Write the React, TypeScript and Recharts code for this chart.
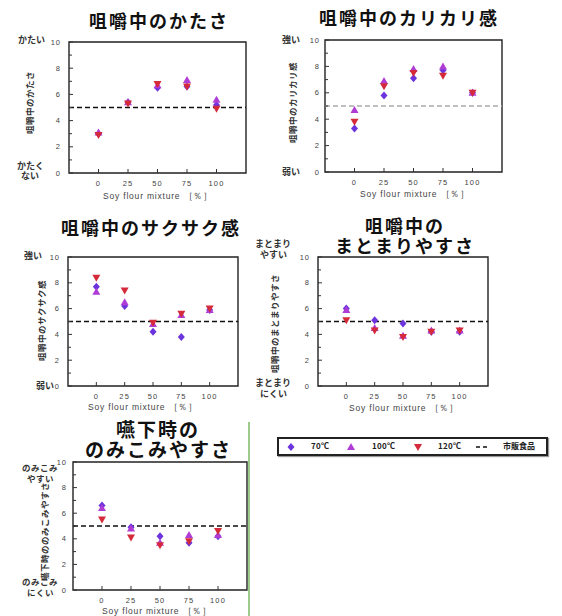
import React from 'react';
import { ScatterChart, Scatter, XAxis, YAxis, ReferenceLine, ReferenceArea } from 'recharts';

const mixture = [0, 25, 50, 75, 100];
const xTicks = [0, 25, 50, 75, 100];
const yTicks = [0, 1, 2, 3, 4, 5, 6, 7, 8, 9, 10];
const yLabelTicks = [0, 2, 4, 6, 8, 10];
const marketLevel = 5;

// 咀嚼中のかたさ
const hard70 = [3.0, 5.4, 6.5, 6.6, 5.2];
const hard100 = [3.1, 5.4, 6.7, 7.1, 5.6];
const hard120 = [2.9, 5.3, 6.8, 6.6, 4.9];

// 咀嚼中のカリカリ感
const kari70 = [3.3, 5.8, 7.1, 7.7, 6.0];
const kari100 = [4.7, 6.9, 7.8, 8.0, 6.0];
const kari120 = [3.8, 6.5, 7.5, 7.3, 6.0];

// 咀嚼中のサクサク感
const saku70 = [7.7, 6.2, 4.2, 3.8, 5.9];
const saku100 = [7.3, 6.5, 4.8, 5.5, 5.9];
const saku120 = [8.4, 7.4, 4.9, 5.6, 6.0];

// 咀嚼中のまとまりやすさ
const matome70 = [6.0, 5.1, 4.85, 4.2, 4.2];
const matome100 = [5.9, 4.5, 3.9, 4.3, 4.3];
const matome120 = [5.1, 4.3, 3.8, 4.2, 4.3];

// 嚥下時ののみこみやすさ
const nomi70 = [6.6, 4.9, 4.2, 3.7, 4.2];
const nomi100 = [6.4, 4.8, 3.7, 4.3, 4.3];
const nomi120 = [5.5, 4.1, 3.5, 3.8, 4.6];

const C70 = '#6c34dc';
const C100 = '#b03cd6';
const C120 = '#d42a3a';

// CJK face with tighter line metrics so stacked lines don't collide
const FONT_CSS = `
@font-face { font-family: 'JPTight'; font-weight: 700;
  src: local('Noto Sans CJK JP Bold'), local('NotoSansCJKjp-Bold'), local('Noto Sans CJK JP');
  ascent-override: 86%; descent-override: 14%; line-gap-override: 0%; }
@font-face { font-family: 'JPTight'; font-weight: 400;
  src: local('Noto Sans CJK JP Regular'), local('NotoSansCJKjp-Regular'), local('Noto Sans CJK JP');
  ascent-override: 86%; descent-override: 14%; line-gap-override: 0%; }
`;

const JP = '"JPTight", "Noto Sans CJK JP", "Noto Sans", sans-serif';
const NUM = '"Liberation Sans", "DejaVu Sans", sans-serif';

const PAD_L = 70;
const PAD_T = 12;
const PAD_R = 12;
const PAD_B = 30;

const toPoints = (vals: number[]) => mixture.map((m, i) => ({ x: m, y: vals[i] }));

const Diamond = (p: any) => (
  <polygon
    points={`${p.cx},${p.cy - 4} ${p.cx + 3.5},${p.cy} ${p.cx},${p.cy + 4} ${p.cx - 3.5},${p.cy}`}
    fill={C70}
  />
);
const TriUp = (p: any) => (
  <polygon
    points={`${p.cx},${p.cy - 4} ${p.cx + 4},${p.cy + 3} ${p.cx - 4},${p.cy + 3}`}
    fill={C100}
  />
);
const TriDown = (p: any) => (
  <polygon
    points={`${p.cx - 4},${p.cy - 3} ${p.cx + 4},${p.cy - 3} ${p.cx},${p.cy + 4}`}
    fill={C120}
  />
);

const panels = [
  {
    key: 'hard', L: 69, T: 42, R: 246, B: 173, yGap: 8,
    title: ['咀嚼中のかたさ'], titleX: 159, titleY: 22, titleSize: 18, titleLh: 20,
    axisLabel: '咀嚼中のかたさ', axX: 30, axY: 102,
    high: ['かたい'], highX: 31, highY: 40,
    low: ['かたく', 'ない'], lowX: 30, lowY: 171, sideSize: 9, sideLh: 10,
    xTitleX: 158, xTitleY: 196, refColor: '#111',
    s70: hard70, s100: hard100, s120: hard120,
  },
  {
    key: 'kari', L: 325, T: 40, R: 502, B: 172, yGap: 5,
    title: ['咀嚼中のカリカリ感'], titleX: 409, titleY: 19, titleSize: 18, titleLh: 20,
    axisLabel: '咀嚼中のカリカリ感', axX: 293, axY: 102,
    high: ['強い'], highX: 291, highY: 40,
    low: ['弱い'], lowX: 291, lowY: 172, sideSize: 9, sideLh: 10,
    xTitleX: 415, xTitleY: 194, refColor: '#aaa',
    s70: kari70, s100: kari100, s120: kari120,
  },
  {
    key: 'saku', L: 68, T: 257, R: 238, B: 386, yGap: 8,
    title: ['咀嚼中のサクサク感'], titleX: 151, titleY: 229, titleSize: 18, titleLh: 20,
    axisLabel: '咀嚼中のサクサク感', axX: 42, axY: 320,
    high: ['強い'], highX: 33, highY: 256,
    low: ['弱い'], lowX: 45, lowY: 386, sideSize: 9, sideLh: 10,
    xTitleX: 143, xTitleY: 407, refColor: '#111',
    s70: saku70, s100: saku100, s120: saku120,
  },
  {
    key: 'matome', L: 318, T: 257, R: 488, B: 386, yGap: 8,
    title: ['咀嚼中の', 'まとまりやすさ'], titleX: 405, titleY: 237, titleSize: 18, titleLh: 20,
    axisLabel: '咀嚼中のまとまりやすさ', axX: 275, axY: 323,
    high: ['まとまり', 'やすい'], highX: 273, highY: 248.5,
    low: ['まとまり', 'にくい'], lowX: 273, lowY: 387.5, sideSize: 9, sideLh: 11,
    xTitleX: 404, xTitleY: 408, refColor: '#111',
    s70: matome70, s100: matome100, s120: matome120,
  },
  {
    key: 'nomi', L: 73, T: 462, R: 247, B: 590, yGap: 6,
    title: ['嚥下時の', 'のみこみやすさ'], titleX: 158, titleY: 441, titleSize: 19, titleLh: 20,
    axisLabel: '嚥下時ののみこみやすさ', axX: 45, axY: 531,
    high: ['のみこみ', 'やすい'], highX: 40, highY: 474,
    low: ['のみこみ', 'にくい'], lowX: 40, lowY: 587.5, sideSize: 8.5, sideLh: 11,
    xTitleX: 157, xTitleY: 611, refColor: '#111',
    s70: nomi70, s100: nomi100, s120: nomi120,
  },
];

function Panel({ def }: { def: any }) {
  const width = def.R - def.L + PAD_L + PAD_R;
  const height = def.B - def.T + PAD_T + PAD_B;
  const yTick = (p: any) => {
    const left = p.x + def.yGap;
    const v = p.payload.value;
    const major = yLabelTicks.includes(v);
    return (
      <g>
        <line x1={left} x2={left + (major ? 4 : 3)} y1={p.y} y2={p.y} stroke="#333" strokeWidth={1} />
        {major && (
          <text x={p.x} y={p.y} dy="0.35em" textAnchor="end" fontSize={7.5} fontFamily={NUM} fill="#444" letterSpacing={1}>
            {v}
          </text>
        )}
      </g>
    );
  };
  const xTick = (p: any) => (
    <g>
      <line x1={p.x} x2={p.x} y1={p.y - 10} y2={p.y - 14} stroke="#333" strokeWidth={1} />
      <text x={p.x} y={p.y} dy="0.35em" textAnchor="middle" fontSize={7.5} fontFamily={NUM} fill="#444" letterSpacing={1.2}>
        {p.payload.value}
      </text>
    </g>
  );
  return (
    <div style={{ position: 'absolute', left: def.L - PAD_L, top: def.T - PAD_T }}>
      <ScatterChart width={width} height={height} margin={{ top: PAD_T, right: PAD_R, bottom: 0, left: PAD_L - 40 }}>
        <XAxis type="number" dataKey="x" domain={[-25, 125]} ticks={xTicks} interval={0} height={PAD_B}
          tickSize={0} tickMargin={10} axisLine={false} tickLine={false} tick={xTick} />
        <YAxis type="number" dataKey="y" domain={[0, 10]} ticks={yTicks} interval={0} width={40}
          tickSize={0} tickMargin={def.yGap} axisLine={false} tickLine={false} tick={yTick} />
        <ReferenceArea x1={-25} x2={125} y1={0} y2={10} fill="none" stroke="#222" strokeWidth={1.4} />
        <ReferenceLine y={marketLevel} stroke={def.refColor} strokeDasharray="5 3" strokeWidth={1.6} />
        <Scatter data={toPoints(def.s70)} shape={Diamond} isAnimationActive={false} />
        <Scatter data={toPoints(def.s100)} shape={TriUp} isAnimationActive={false} />
        <Scatter data={toPoints(def.s120)} shape={TriDown} isAnimationActive={false} />
      </ScatterChart>
    </div>
  );
}

// a block of one or more lines, centred on (x, y)
const textBlock = (x: number, y: number, lines: string[], lh: number, style: React.CSSProperties) => (
  <div style={{ position: 'absolute', left: x, top: y, transform: 'translate(-50%, -50%)', whiteSpace: 'nowrap', textAlign: 'center', lineHeight: `${lh}px`, ...style }}>
    {lines.map((t, i) => (
      <React.Fragment key={i}>
        {i > 0 && <br />}
        {t}
      </React.Fragment>
    ))}
  </div>
);

function PanelText({ def }: { def: any }) {
  const titleStyle: React.CSSProperties = { fontFamily: JP, fontSize: def.titleSize, letterSpacing: 2, fontWeight: 'bold', color: '#111' };
  const sideStyle: React.CSSProperties = { fontFamily: JP, fontSize: def.sideSize, fontWeight: 'bold', color: '#333' };
  return (
    <>
      {textBlock(def.titleX, def.titleY, def.title, def.titleLh, titleStyle)}
      {textBlock(def.highX, def.highY, def.high, def.sideLh, sideStyle)}
      {textBlock(def.lowX, def.lowY, def.low, def.sideLh, sideStyle)}
      {textBlock(def.axX, def.axY, [def.axisLabel], 10, { ...sideStyle, fontSize: 8.5, transform: 'translate(-50%, -50%) rotate(-90deg)' })}
      {textBlock(def.xTitleX, def.xTitleY, ['Soy flour mixture ［％］'], 10, { fontFamily: NUM, fontSize: 8.5, letterSpacing: 0.8, color: '#444' })}
    </>
  );
}

function Legend() {
  const item = (x: number, sym: React.ReactNode, label: string, lx: number) => (
    <>
      <svg style={{ position: 'absolute', left: x - 6, top: 3 }} width={12} height={10}>{sym}</svg>
      <div style={{ position: 'absolute', left: lx, top: 7, transform: 'translate(-50%, -50%)', fontFamily: JP, fontSize: 8, fontWeight: 'bold', color: '#222', whiteSpace: 'nowrap', lineHeight: 1 }}>{label}</div>
    </>
  );
  return (
    <div style={{ position: 'absolute', left: 277, top: 437, width: 271, height: 19, boxSizing: 'border-box', border: '2px solid #222', boxShadow: '1px 1px 1px #999', background: '#fff' }}>
      {item(12, <Diamond cx={6} cy={5} />, '70℃', 41)}
      {item(72, <TriUp cx={6} cy={5} />, '100℃', 104)}
      {item(139, <TriDown cx={6} cy={5} />, '120℃', 170)}
      {item(203, <line x1={0} x2={12} y1={5} y2={5} stroke="#111" strokeWidth={1.6} strokeDasharray="4 3" />, '市販食品', 240)}
    </div>
  );
}

export default function App() {
  return (
    <div style={{ position: 'absolute', left: 0, top: 0, width: 562, height: 616, background: '#fff', overflow: 'hidden' }}>
      <style>{FONT_CSS}</style>
      <div style={{ position: 'absolute', left: 248, top: 422, width: 2, height: 194, background: '#9ccc8c' }} />
      {panels.map((d) => (
        <Panel key={d.key} def={d} />
      ))}
      {panels.map((d) => (
        <PanelText key={d.key + 'txt'} def={d} />
      ))}
      <Legend />
    </div>
  );
}
